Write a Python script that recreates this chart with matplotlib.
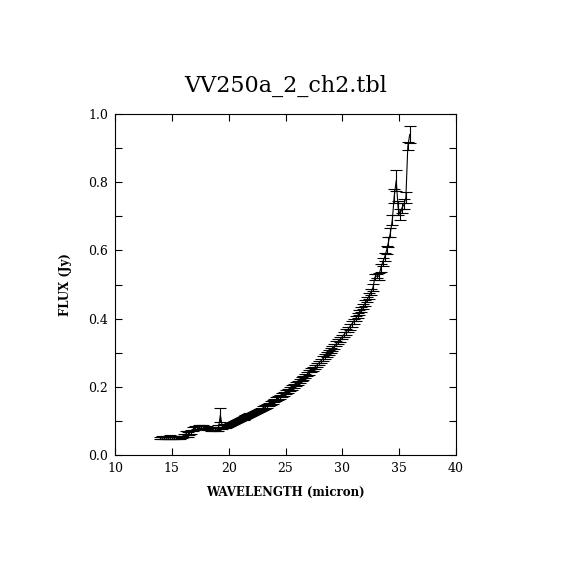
import numpy as np
import matplotlib
matplotlib.use("Agg")
import matplotlib.pyplot as plt
from matplotlib.ticker import MultipleLocator

# spectrum
wavelength = [
    14.00, 14.17, 14.34, 14.51, 14.68, 14.85, 15.02, 15.19, 15.36, 15.53, 15.70, 15.87,
    16.04, 16.21, 16.38, 16.55, 16.72, 16.89, 17.06, 17.23, 17.40, 17.57, 17.74, 17.91,
    18.08, 18.25, 18.42, 18.59, 18.76, 18.93, 19.10, 19.27, 19.44, 19.61, 19.78, 19.95,
    20.12, 20.29, 20.46, 20.63, 20.80, 20.97, 21.14, 21.31, 21.48, 21.65, 21.82, 21.99,
    22.16, 22.33, 22.50, 22.67, 22.84, 23.01, 23.18, 23.35, 23.52, 23.69, 23.86, 24.03,
    24.20, 24.37, 24.54, 24.71, 24.88, 25.05, 25.22, 25.39, 25.56, 25.73, 25.90, 26.07,
    26.24, 26.41, 26.58, 26.75, 26.92, 27.09, 27.26, 27.43, 27.60, 27.77, 27.94, 28.11,
    28.28, 28.45, 28.62, 28.79, 28.96, 29.13, 29.30, 29.47, 29.64, 29.81, 29.98, 30.15,
    30.32, 30.49, 30.66, 30.83, 31.00, 31.17, 31.34, 31.51, 31.68, 31.85, 32.02, 32.19,
    32.36, 32.53, 32.70, 32.87, 33.04, 33.21, 33.38, 33.55, 33.72, 33.89, 34.06, 34.23,
    34.40, 34.57, 34.74, 34.91, 35.08, 35.25, 35.42, 35.59, 35.76, 35.93,
]
flux = [
    0.050, 0.051, 0.050, 0.051, 0.050, 0.052, 0.051, 0.050, 0.051, 0.052, 0.051, 0.053,
    0.058, 0.062, 0.060, 0.064, 0.068, 0.075, 0.079, 0.081, 0.083, 0.082, 0.083, 0.080,
    0.079, 0.078, 0.076, 0.075, 0.077, 0.076, 0.079, 0.117, 0.082, 0.085, 0.084, 0.087,
    0.089, 0.092, 0.095, 0.098, 0.101, 0.104, 0.107, 0.109, 0.112, 0.114, 0.117, 0.119,
    0.122, 0.125, 0.128, 0.131, 0.134, 0.138, 0.141, 0.144, 0.148, 0.152, 0.155, 0.159,
    0.163, 0.167, 0.171, 0.176, 0.180, 0.184, 0.189, 0.194, 0.198, 0.203, 0.207, 0.212,
    0.217, 0.222, 0.227, 0.232, 0.237, 0.242, 0.248, 0.253, 0.258, 0.264, 0.270, 0.276,
    0.282, 0.288, 0.294, 0.300, 0.307, 0.313, 0.319, 0.326, 0.332, 0.339, 0.346, 0.353,
    0.361, 0.368, 0.376, 0.384, 0.392, 0.400, 0.409, 0.418, 0.427, 0.436, 0.446, 0.456,
    0.467, 0.478, 0.492, 0.522, 0.525, 0.524, 0.548, 0.565, 0.580, 0.600, 0.625, 0.652,
    0.690, 0.760, 0.805, 0.725, 0.705, 0.725, 0.735, 0.755, 0.905, 0.940,
]
flux_err = [
    0.004, 0.004, 0.004, 0.004, 0.004, 0.006, 0.004, 0.004, 0.004, 0.004, 0.004, 0.004,
    0.005, 0.008, 0.006, 0.005, 0.005, 0.006, 0.005, 0.005, 0.006, 0.005, 0.005, 0.005,
    0.005, 0.005, 0.005, 0.005, 0.005, 0.005, 0.010, 0.020, 0.006, 0.005, 0.005, 0.005,
    0.005, 0.005, 0.005, 0.005, 0.005, 0.005, 0.005, 0.005, 0.005, 0.005, 0.005, 0.005,
    0.005, 0.005, 0.005, 0.005, 0.005, 0.005, 0.005, 0.005, 0.005, 0.005, 0.005, 0.005,
    0.006, 0.006, 0.006, 0.006, 0.006, 0.006, 0.006, 0.006, 0.006, 0.006, 0.006, 0.006,
    0.006, 0.006, 0.006, 0.006, 0.006, 0.006, 0.006, 0.006, 0.006, 0.006, 0.006, 0.006,
    0.007, 0.007, 0.007, 0.007, 0.007, 0.007, 0.007, 0.007, 0.007, 0.007, 0.007, 0.007,
    0.008, 0.008, 0.008, 0.008, 0.008, 0.008, 0.008, 0.008, 0.008, 0.008, 0.008, 0.008,
    0.009, 0.010, 0.010, 0.010, 0.006, 0.010, 0.012, 0.012, 0.012, 0.012, 0.014, 0.014,
    0.015, 0.020, 0.030, 0.020, 0.015, 0.015, 0.015, 0.015, 0.012, 0.025,
]

title = "VV250a_2_ch2.tbl"
xlabel = "WAVELENGTH (micron)"
ylabel = "FLUX (Jy)"

plt.rcParams["font.family"] = "DejaVu Serif"

fig = plt.figure(figsize=(5.7, 5.7), dpi=100)
ax = fig.add_axes([115 / 570, 115 / 570, 341 / 570, 341 / 570])

ax.plot(wavelength, flux, color="black", lw=0.8)
ax.errorbar(wavelength, flux, yerr=flux_err, fmt="none", ecolor="black",
            elinewidth=0.8, capsize=4, capthick=0.8)

ax.set_xlim(10, 40)
ax.set_ylim(0, 1)
ax.xaxis.set_major_locator(MultipleLocator(5))
ax.yaxis.set_major_locator(MultipleLocator(0.2))
ax.yaxis.set_minor_locator(MultipleLocator(0.1))
ax.tick_params(which="both", direction="in", top=True, right=True,
               length=5, width=0.8, labelsize=9, pad=5)
for s in ax.spines.values():
    s.set_linewidth(0.8)

ax.set_title(title, fontsize=16, pad=16)
ax.set_xlabel(xlabel, fontsize=8.5, fontweight="bold")
ax.set_ylabel(ylabel, fontsize=8.5, fontweight="bold")
ax.xaxis.set_label_coords(0.5, -0.09)
ax.yaxis.set_label_coords(-0.125, 0.5)

fig.savefig("out.png", dpi=100)
